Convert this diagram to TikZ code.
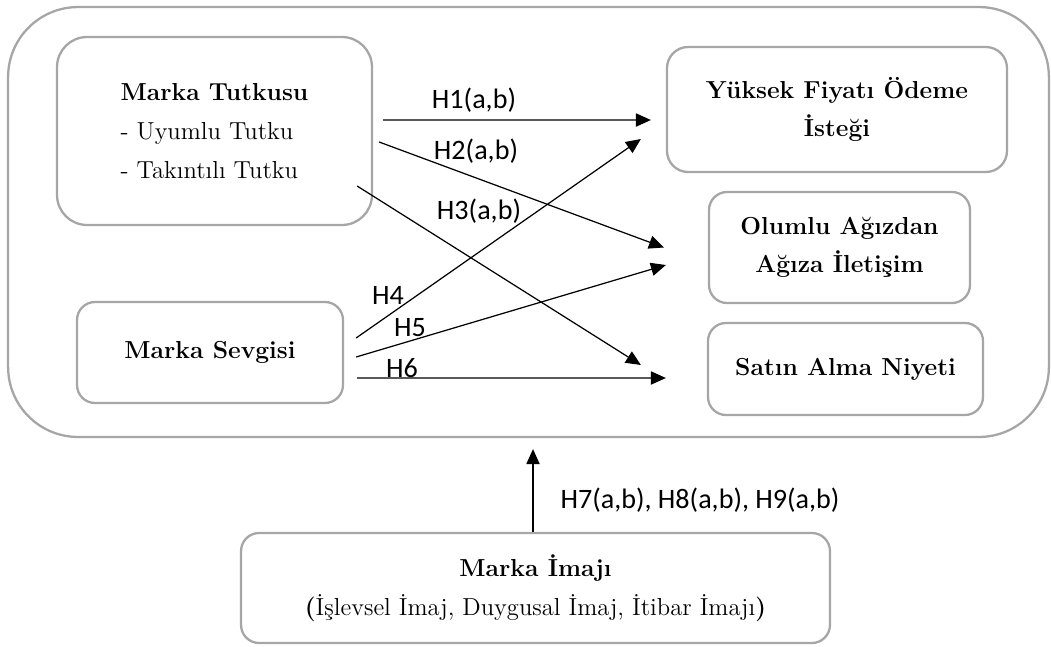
\documentclass[tikz,border=0pt]{standalone}
\usepackage{fontspec}
\newfontfamily\labelfont{Carlito}
\usetikzlibrary{arrows.meta}
\definecolor{boxgray}{RGB}{166,166,166}
\tikzset{
  box/.style={draw=boxgray, line width=1.3pt, rounded corners=0.36cm, align=center,
    font=\fontsize{14}{22}\selectfont},
  hyp/.style={-{Triangle[length=8.5pt,width=7.5pt]}, line width=0.7pt},
  hlab/.style={font=\labelfont\fontsize{16}{18}\selectfont, inner sep=0pt},
}
\begin{document}
\begin{tikzpicture}[x=0.02cm, y=-0.02cm]
\useasboundingbox (0,0) rectangle (1051,646);

\node[box, rounded corners=1.4cm, minimum width=20.82cm, minimum height=8.6cm] (model) at (528.5,222) {};

\node[box, align=left, rounded corners=0.6cm, minimum width=6.3cm, minimum height=3.76cm] (tutku) at (214.5,131)
  {\textbf{Marka Tutkusu}\\- Uyumlu Tutku\\- Takıntılı Tutku};
\node[box, minimum width=5.32cm, minimum height=2.02cm] (sevgi) at (210,352.5) {\textbf{Marka Sevgisi}};
\node[box, rounded corners=0.42cm, minimum width=6.8cm, minimum height=2.5cm] (yuksek) at (837,109.5)
  {\textbf{Yüksek Fiyatı Ödeme}\\\textbf{İsteği}};
\node[box, minimum width=5.22cm, minimum height=2.22cm] (olumlu) at (839.5,247.5)
  {\textbf{Olumlu Ağızdan}\\\textbf{Ağıza İletişim}};
\node[box, minimum width=5.5cm, minimum height=1.84cm] (satin) at (845.5,369) {\textbf{Satın Alma Niyeti}};
\node[box, minimum width=11.78cm, minimum height=2.2cm] (imaj) at (535.5,588)
  {\textbf{Marka İmajı}\\\textbf{(}İşlevsel İmaj, Duygusal İmaj, İtibar İmajı\textbf{)}};

\draw[hyp] ([shift={(10,-11)}]tutku.east) -- ([shift={(-15,10.5)}]yuksek.west);
\draw[hyp] ([shift={(6,11)}]tutku.east) -- ([shift={(-44,0)}]olumlu.west);
\draw[hyp] ([shift={(-16,55)}]tutku.east) -- ([shift={(-66,-4)}]satin.west);
\draw[hyp] ([shift={(12,-14.5)}]sevgi.east) -- ([shift={(-25,29.5)}]yuksek.west);
\draw[hyp] ([shift={(12,4.5)}]sevgi.east) -- ([shift={(-42,17.5)}]olumlu.west);
\draw[hyp] ([shift={(13,25.5)}]sevgi.east) -- ([shift={(-41,9)}]satin.west);
\draw[hyp, shorten >=0.22cm] ([xshift=-0.05cm]imaj.north) -- ([xshift=-0.05cm]imaj.north |- model.south);

\node[hlab] (h1) at (474,100) {H1(a,b)};
\node[hlab] (h2) at (476,151) {H2(a,b)};
\node[hlab] (h3) at (479,211) {H3(a,b)};
\node[hlab] (h4) at (388,295) {H4};
\node[hlab] (h5) at (410,328) {H5};
\node[hlab] (h6) at (402,368) {H6};
\node[hlab] (h789) at (700,500) {H7(a,b), H8(a,b), H9(a,b)};
\end{tikzpicture}
\end{document}
